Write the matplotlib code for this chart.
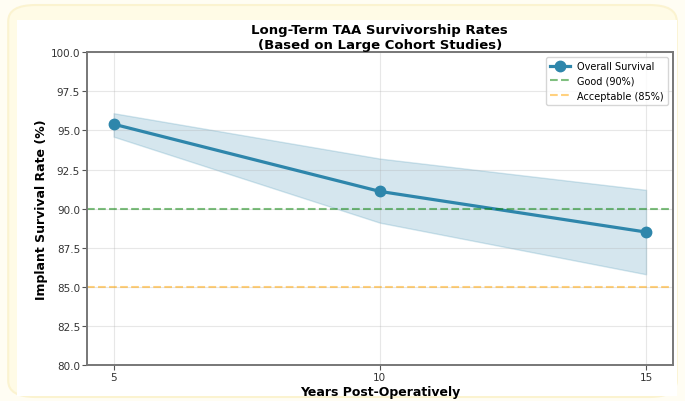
import matplotlib.pyplot as plt
from matplotlib.patches import FancyBboxPatch

years = [5, 10, 15]
survival = [95.4, 91.1, 88.5]
ci_lower = [94.6, 89.1, 85.8]
ci_upper = [96.1, 93.2, 91.2]
good_threshold = 90
acceptable_threshold = 85

fig = plt.figure(figsize=(6.85, 4.02), dpi=100)
fig.patch.set_facecolor("#FFFDF3")

# white card with soft cream border, like the page the chart sits on
card = FancyBboxPatch(
    (0.012, 0.01), 0.976, 0.975,
    boxstyle="round,pad=0,rounding_size=0.04",
    transform=fig.transFigure,
    facecolor="#FFFBE6", edgecolor="#FBF3D0", linewidth=1.5, zorder=-2,
)
fig.patches.append(card)
inner = plt.Rectangle(
    (0.025, 0.012), 0.963, 0.935,
    transform=fig.transFigure, facecolor="white", edgecolor="none", zorder=-1,
)
fig.patches.append(inner)

ax = fig.add_axes([0.127, 0.0896, 0.855, 0.778])

ax.fill_between(years, ci_lower, ci_upper, color="#2E86AB", alpha=0.2)
ax.plot(years, survival, "o-", color="#2E86AB", linewidth=2.3, markersize=7.5,
        label="Overall Survival")
ax.axhline(good_threshold, color="green", linestyle="--", alpha=0.5,
           linewidth=1.5, label="Good (90%)")
ax.axhline(acceptable_threshold, color="orange", linestyle="--", alpha=0.5,
           linewidth=1.5, label="Acceptable (85%)")

ax.set_ylim(80, 100)
ax.set_xticks(years)
ax.set_xlabel("Years Post-Operatively", fontsize=9, fontweight="bold", labelpad=2)
ax.set_ylabel("Implant Survival Rate (%)", fontsize=9, fontweight="bold", labelpad=2)
ax.set_title("Long-Term TAA Survivorship Rates\n(Based on Large Cohort Studies)",
             fontsize=9.5, fontweight="bold", pad=3)
ax.tick_params(labelsize=7.5, pad=1.5, color="#555555", labelcolor="#333333")
ax.yaxis.set_major_formatter(plt.FormatStrFormatter("%.1f"))
for spine in ax.spines.values():
    spine.set_edgecolor("#777777")
    spine.set_linewidth(1.4)
ax.grid(True, alpha=0.3)
ax.legend(fontsize=7, loc="upper right")

plt.savefig("out.png", dpi=100)
